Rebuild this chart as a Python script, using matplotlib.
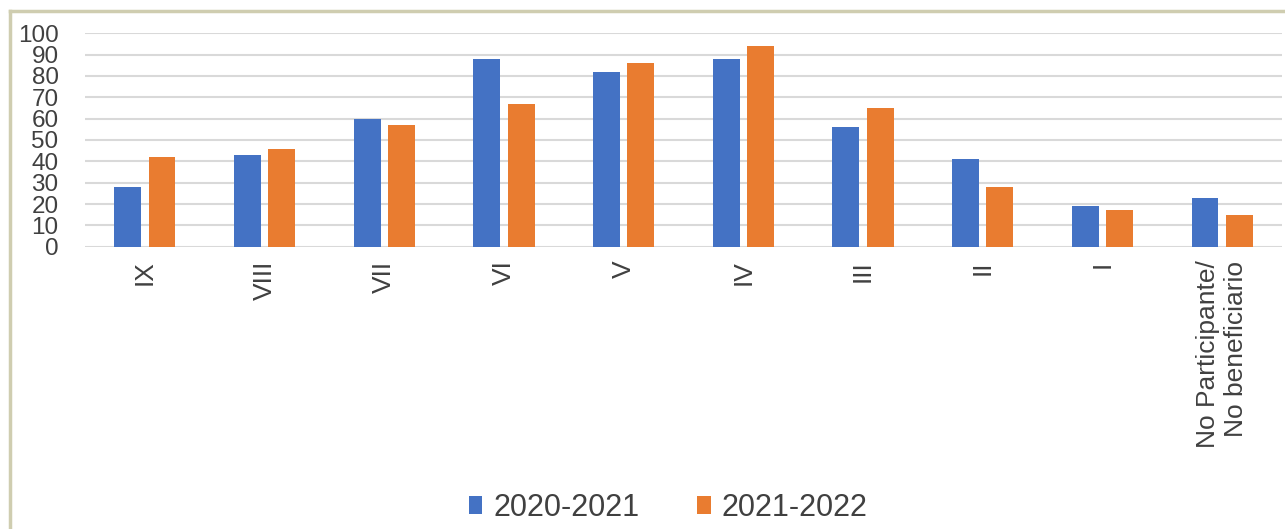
import matplotlib
matplotlib.use("Agg")
import matplotlib.pyplot as plt
import numpy as np
from matplotlib.lines import Line2D

plt.rcParams['font.family'] = ['Liberation Sans', 'DejaVu Sans']

categories = ['IX', 'VIII', 'VII', 'VI', 'V', 'IV', 'III', 'II', 'I',
              'No Participante/\nNo beneficiario']
s2021 = [28, 43, 60, 88, 82, 88, 56, 41, 19, 23]
s2022 = [42, 46, 57, 67, 86, 94, 65, 28, 17, 15]
labels = ['2020-2021', '2021-2022']

blue = '#4472C4'
orange = '#E97C30'
txt = '#404040'

fig = plt.figure(figsize=(12.85, 5.29), dpi=100)
ax = fig.add_axes([85/1285, 1-246.7/529, (1282-85)/1285, (246.7-33.3)/529])

x = np.arange(len(categories))
w = 0.225
ax.bar(x - 0.143, s2021, w, color=blue, label=labels[0], zorder=3)
ax.bar(x + 0.143, s2022, w, color=orange, label=labels[1], zorder=3)

ax.set_xlim(-0.5, len(categories) - 0.5)
ax.set_ylim(0, 100)
ax.set_yticks(np.arange(0, 101, 10))
ax.yaxis.grid(True, color='#d9d9d9', linewidth=1.5, zorder=0)
ax.set_xticks(x)
ax.set_xticklabels(categories, rotation=90, fontsize=19, color=txt,
                   va='top', ha='center', multialignment='right')
ax.tick_params(axis='y', labelsize=17.5, labelcolor=txt, length=0, pad=19)
ax.tick_params(axis='x', length=0, pad=10)
for s in ax.spines.values():
    s.set_visible(False)

leg = fig.legend(loc='center', bbox_to_anchor=(0.52, 0.04), ncol=2,
                 frameon=False, fontsize=22, handlelength=0.45, handleheight=0.55,
                 handletextpad=0.35, columnspacing=1.9)
for t in leg.get_texts():
    t.set_color(txt)

# outer frame of the original chart
fig.add_artist(Line2D([10/1285, 10/1285], [0, 1-11/529], color='#cfcdb0', lw=2.5))
fig.add_artist(Line2D([10/1285, 1], [1-11/529, 1-11/529], color='#cfcdb0', lw=2.5))

fig.savefig('out.png', dpi=100)
